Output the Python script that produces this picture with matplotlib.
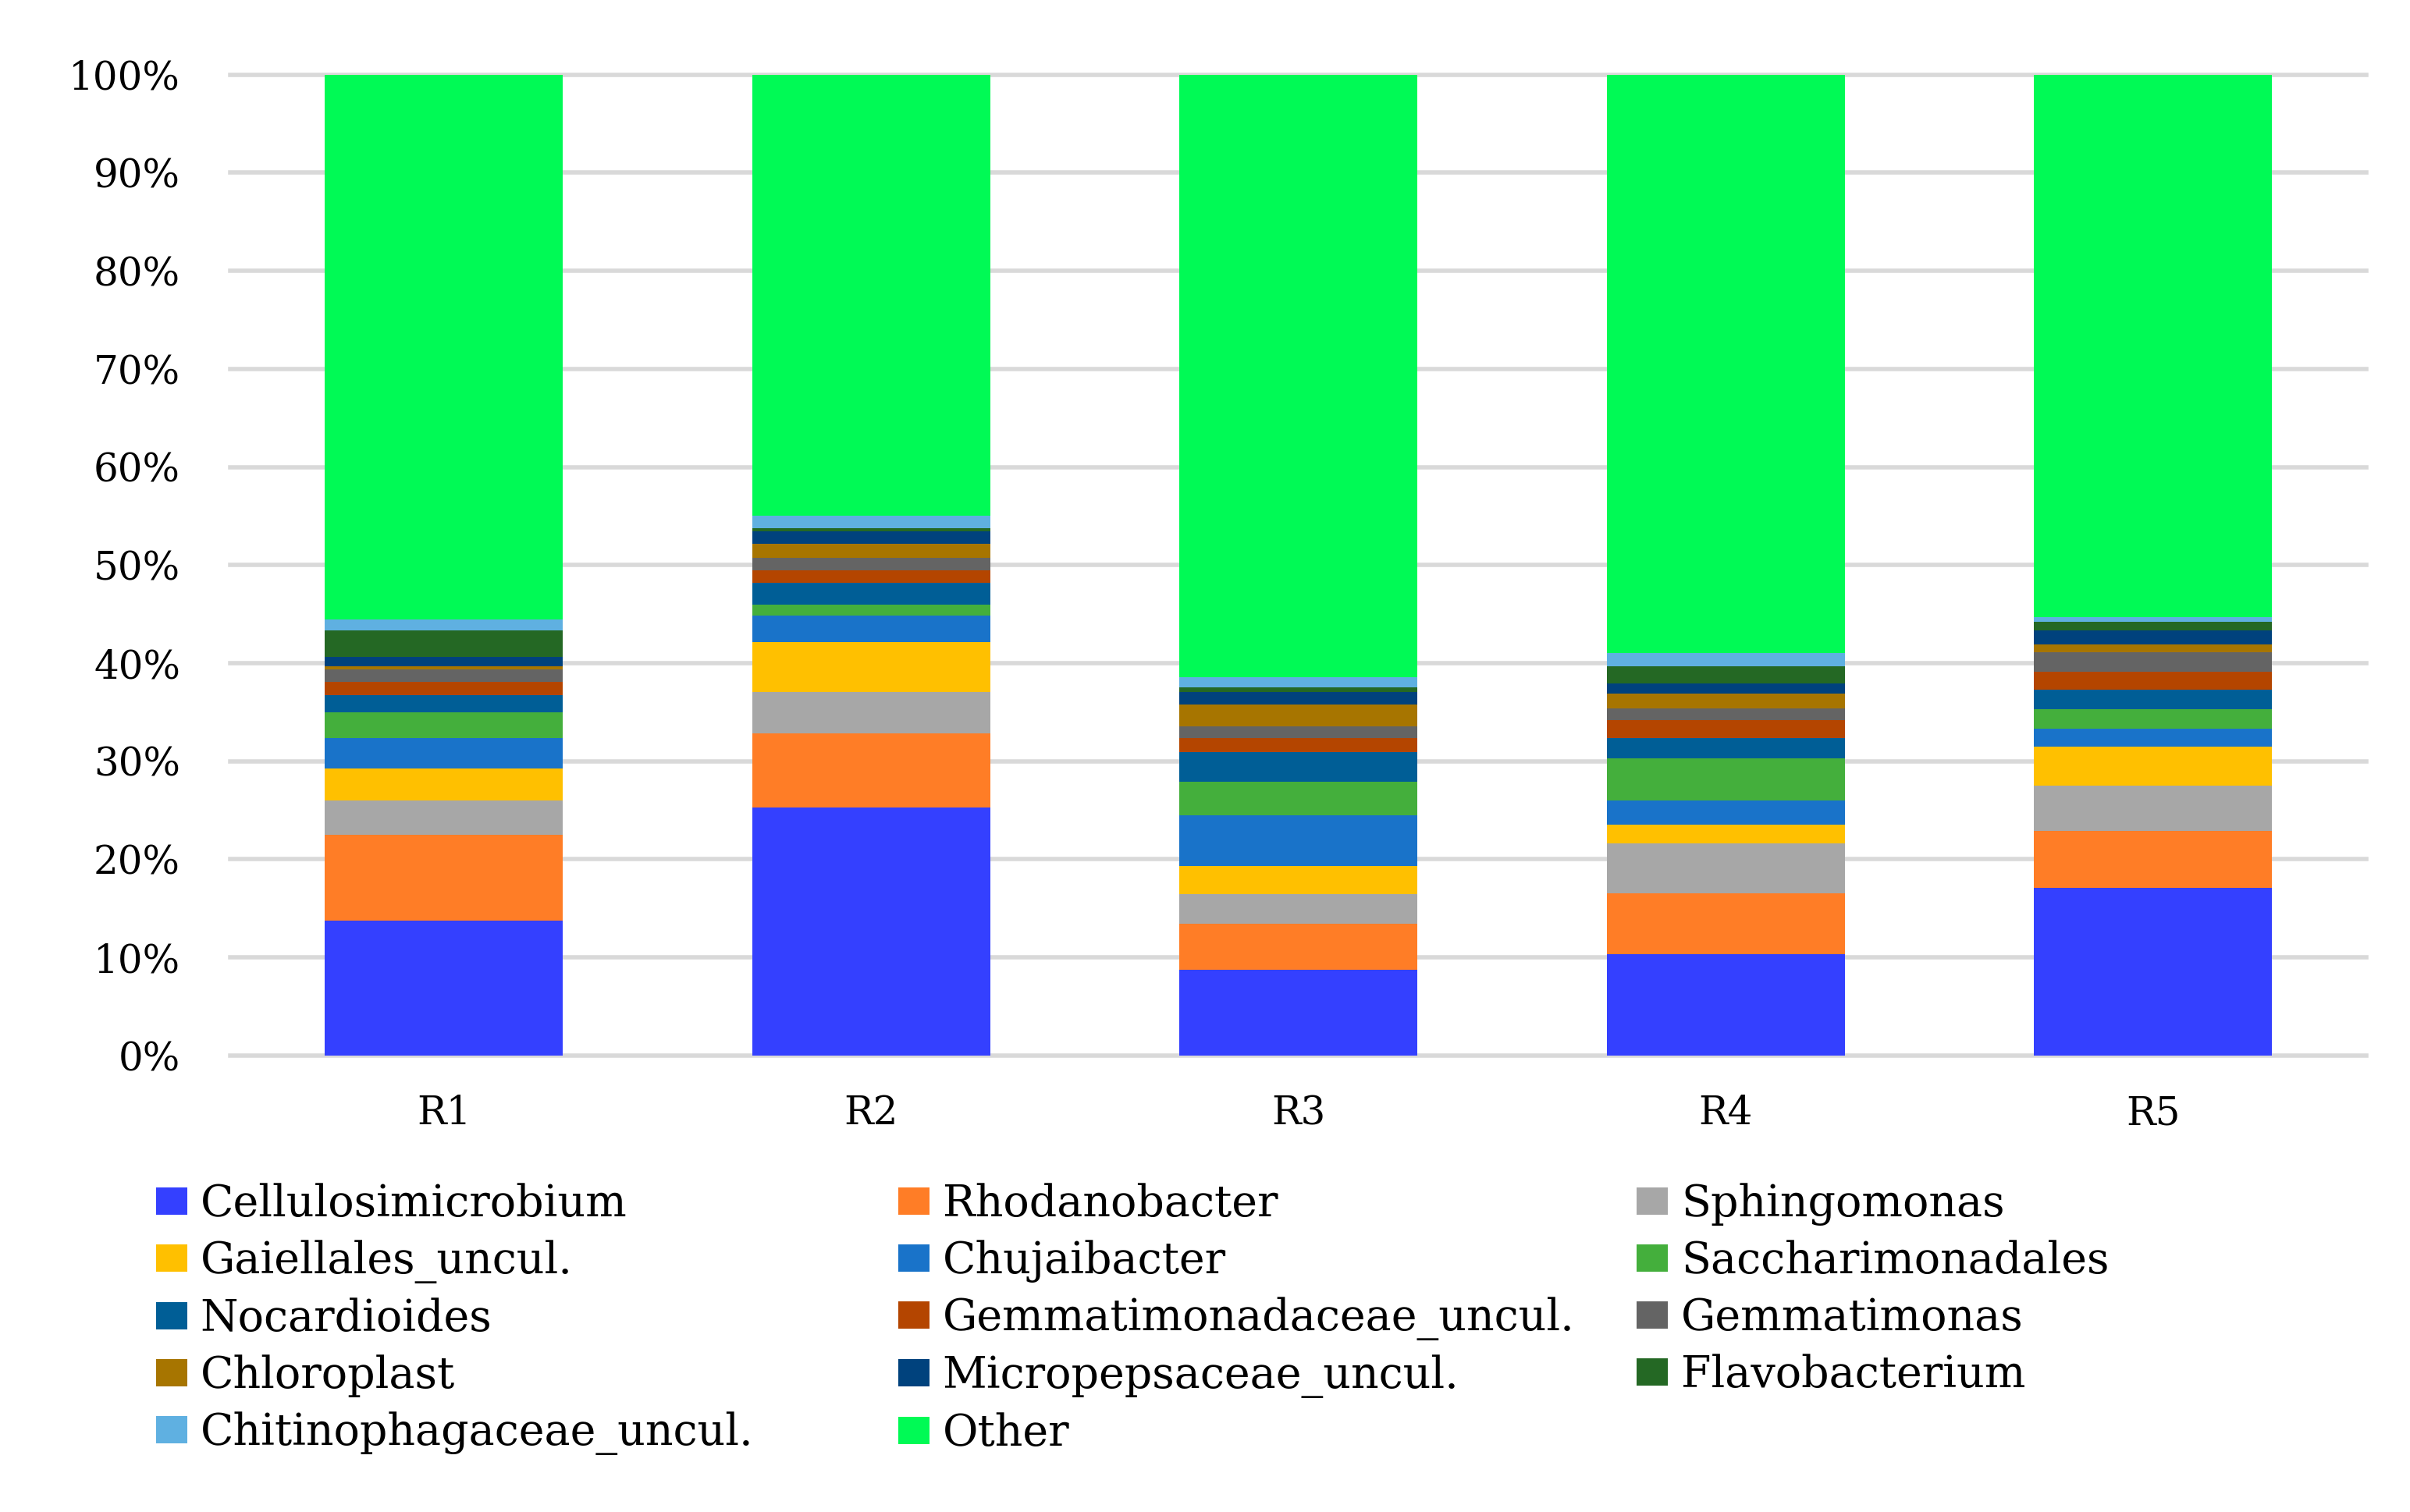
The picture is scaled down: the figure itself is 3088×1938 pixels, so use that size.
import numpy as np
import matplotlib
matplotlib.use("Agg")
import matplotlib.pyplot as plt
from matplotlib.patches import Patch

plt.rcParams['font.family'] = ['DejaVu Serif']

#%% Data (relative abundance, %)
samples = ["R1", "R2", "R3", "R4", "R5"]

taxa = ["Cellulosimicrobium", "Rhodanobacter", "Sphingomonas",
        "Gaiellales_uncul.", "Chujaibacter", "Saccharimonadales",
        "Nocardioides", "Gemmatimonadaceae_uncul.", "Gemmatimonas",
        "Chloroplast", "Micropepsaceae_uncul.", "Flavobacterium",
        "Chitinophagaceae_uncul.", "Other"]

cellulosimicrobium = [13.74, 25.26, 8.74, 10.34, 17.08]
rhodanobacter      = [8.77, 7.62, 4.68, 6.22, 5.81]
sphingomonas       = [3.46, 4.17, 3.01, 5.06, 4.59]
gaiellales         = [3.27, 5.07, 2.88, 1.90, 4.00]
chujaibacter       = [3.11, 2.70, 5.18, 2.47, 1.88]
saccharimonadales  = [2.61, 1.13, 3.42, 4.29, 1.92]
nocardioides       = [1.82, 2.21, 3.01, 2.08, 1.98]
gemmatimonadaceae  = [1.32, 1.28, 1.45, 1.87, 1.86]
gemmatimonas       = [1.26, 1.27, 1.18, 1.17, 1.98]
chloroplast        = [0.31, 1.43, 2.22, 1.50, 0.79]
micropepsaceae     = [1.00, 1.28, 1.29, 1.03, 1.44]
flavobacterium     = [2.70, 0.33, 0.47, 1.76, 0.85]
chitinophagaceae   = [1.10, 1.28, 1.04, 1.36, 0.54]
other              = [55.50, 44.97, 61.42, 58.95, 55.28]

colors = ["#3440FF", "#FF7D26", "#A7A7A7", "#FFC000", "#1973C9", "#44AF3C",
          "#005E96", "#B44500", "#646464", "#A77500", "#00427D", "#246824",
          "#5FB0E1", "#00FA55"]

values = np.array([cellulosimicrobium, rhodanobacter, sphingomonas, gaiellales,
                   chujaibacter, saccharimonadales, nocardioides, gemmatimonadaceae,
                   gemmatimonas, chloroplast, micropepsaceae, flavobacterium,
                   chitinophagaceae, other]) / 100.0

#%% Plot
fig = plt.figure(figsize=(15.44, 9.69), dpi=200)
ax = fig.add_axes([0.0955, 0.3019, 0.8865, 0.6487])

x = np.arange(len(samples))
bottom = np.zeros(len(samples))
for i, name in enumerate(taxa):
    ax.bar(x, values[i], 0.557, bottom=bottom, color=colors[i], label=name, zorder=3)
    bottom += values[i]

ax.set_xlim(-0.5, len(samples) - 0.5)
ax.set_ylim(0, 1)
yt = np.arange(0, 1.01, 0.1)
ax.set_yticks(yt)
ax.set_yticklabels([f"{int(round(t * 100))}%" for t in yt])
ax.set_xticks(x)
ax.set_xticklabels(samples)
ax.tick_params(axis='both', length=0, labelsize=18)
ax.tick_params(axis='y', pad=23)
ax.tick_params(axis='x', pad=18)
ax.grid(axis='y', color='#D9D9D9', linewidth=2, zorder=0, clip_on=False)
for s in ax.spines.values():
    s.set_visible(False)

#%% Legend: three columns placed at fixed positions
cols = [[0, 3, 6, 9, 12], [1, 4, 7, 10, 13], [2, 5, 8, 11]]
col_x = [0.0575, 0.3655, 0.672]
for c, idx in enumerate(cols):
    handles = [Patch(facecolor=colors[i], edgecolor='none') for i in idx]
    labels = [taxa[i] for i in idx]
    fig.legend(handles, labels, loc='upper left', bbox_to_anchor=(col_x[c], 0.229),
               frameon=False, fontsize=20, handlelength=0.72, handleheight=0.58,
               handletextpad=0.3, labelspacing=0.33, borderaxespad=0)

fig.savefig("out.png", dpi=200)
